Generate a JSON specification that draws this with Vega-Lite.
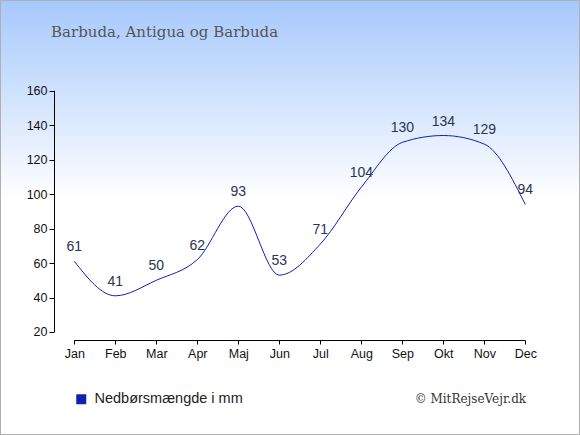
{
  "$schema": "https://vega.github.io/schema/vega-lite/v6.json",
  "width": 580,
  "height": 435,
  "autosize": "none",
  "padding": 0,
  "background": "#ffffff",
  "title": {
    "text": "Barbuda, Antigua og Barbuda",
    "anchor": "start",
    "frame": "group",
    "dx": 51,
    "offset": -41,
    "font": "DejaVu Serif",
    "fontSize": 15,
    "fontWeight": "normal",
    "color": "#555555"
  },
  "data": {
    "values": [
      {"m": 1, "mm": 61},
      {"m": 2, "mm": 41},
      {"m": 3, "mm": 50},
      {"m": 4, "mm": 62},
      {"m": 5, "mm": 93},
      {"m": 6, "mm": 53},
      {"m": 7, "mm": 71},
      {"m": 8, "mm": 104},
      {"m": 9, "mm": 130},
      {"m": 10, "mm": 134},
      {"m": 11, "mm": 129},
      {"m": 12, "mm": 94}
    ]
  },
  "layer": [
    {
      "data": {"values": [{}]},
      "mark": {
        "type": "rect",
        "fill": {
          "gradient": "linear",
          "x1": 0, "y1": 0, "x2": 0, "y2": 1,
          "stops": [
            {"offset": 0, "color": "#a6c8fc"},
            {"offset": 0.46, "color": "#ffffff"},
            {"offset": 1, "color": "#ffffff"}
          ]
        },
        "stroke": "#b0b0b0",
        "strokeWidth": 2
      },
      "encoding": {
        "x": {"datum": -0.8122, "type": "quantitative"},
        "x2": {"datum": 13.334},
        "y": {"datum": 212.62, "type": "quantitative"},
        "y2": {"datum": -39.76}
      }
    },
    {
      "data": {"values": [{}]},
      "mark": {"type": "rule", "color": "#000000", "strokeWidth": 1},
      "encoding": {
        "x": {"datum": 0.5171, "type": "quantitative"},
        "y": {"datum": 20, "type": "quantitative"},
        "y2": {"datum": 160}
      }
    },
    {
      "data": {"values": [{}]},
      "mark": {"type": "rule", "color": "#000000", "strokeWidth": 1},
      "encoding": {
        "x": {"datum": 1, "type": "quantitative"},
        "x2": {"datum": 12},
        "y": {"datum": 15.065, "type": "quantitative"}
      }
    },
    {
      "mark": {"type": "line", "interpolate": "monotone", "strokeWidth": 1},
      "encoding": {
        "x": {
          "field": "m",
          "type": "quantitative",
          "scale": {"domain": [-0.8122, 13.334], "nice": false, "zero": false},
          "axis": {
            "orient": "bottom",
            "offset": -95,
            "zindex": 1,
            "domain": false,
            "grid": false,
            "title": null,
            "values": [1, 2, 3, 4, 5, 6, 7, 8, 9, 10, 11, 12],
            "labelExpr": "['Jan','Feb','Mar','Apr','Maj','Jun','Jul','Aug','Sep','Okt','Nov','Dec'][datum.value - 1]",
            "tickSize": 4,
            "tickColor": "#000000",
            "labelPadding": 3,
            "labelFont": "Liberation Sans",
            "labelFontSize": 12.5,
            "labelColor": "#111111",
            "labelFlush": false,
            "labelOverlap": false
          }
        },
        "y": {
          "field": "mm",
          "type": "quantitative",
          "scale": {"domain": [-39.76, 212.62], "nice": false, "zero": false},
          "axis": {
            "orient": "left",
            "offset": -54,
            "zindex": 1,
            "domain": false,
            "grid": false,
            "title": null,
            "values": [20, 40, 60, 80, 100, 120, 140, 160],
            "tickSize": 5,
            "tickColor": "#000000",
            "labelPadding": 2,
            "labelFont": "Liberation Sans",
            "labelFontSize": 12.5,
            "labelColor": "#111111",
            "labelFlush": false,
            "labelOverlap": false
          }
        },
        "color": {
          "datum": "Nedbørsmængde i mm",
          "type": "nominal",
          "scale": {"range": ["#1020b0"]},
          "legend": {
            "title": null,
            "orient": "none",
            "legendX": 74,
            "legendY": 392,
            "padding": 0,
            "symbolType": "square",
            "symbolSize": 100,
            "symbolFillColor": "#1020b0",
            "symbolStrokeWidth": 0,
            "labelFont": "Liberation Sans",
            "labelFontSize": 14.5,
            "labelColor": "#222222",
            "labelOffset": 6,
            "encode": {
              "symbols": {"update": {"fill": {"value": "#1020b0"}, "strokeWidth": {"value": 0}}}
            }
          }
        }
      }
    },
    {
      "mark": {
        "type": "text",
        "dy": -14,
        "baseline": "middle",
        "align": "center",
        "font": "Liberation Sans",
        "fontSize": 14,
        "color": "#2a3552"
      },
      "encoding": {
        "x": {"field": "m", "type": "quantitative"},
        "y": {"field": "mm", "type": "quantitative"},
        "text": {"field": "mm", "type": "quantitative"}
      }
    },
    {
      "data": {"values": [{}]},
      "mark": {
        "type": "text",
        "align": "right",
        "baseline": "middle",
        "font": "DejaVu Serif",
        "fontSize": 12,
        "color": "#333333",
        "text": "© MitRejseVejr.dk"
      },
      "encoding": {
        "x": {"datum": 12.02, "type": "quantitative"},
        "y": {"datum": -18.88, "type": "quantitative"}
      }
    }
  ],
  "config": {
    "view": {"stroke": null}
  }
}
